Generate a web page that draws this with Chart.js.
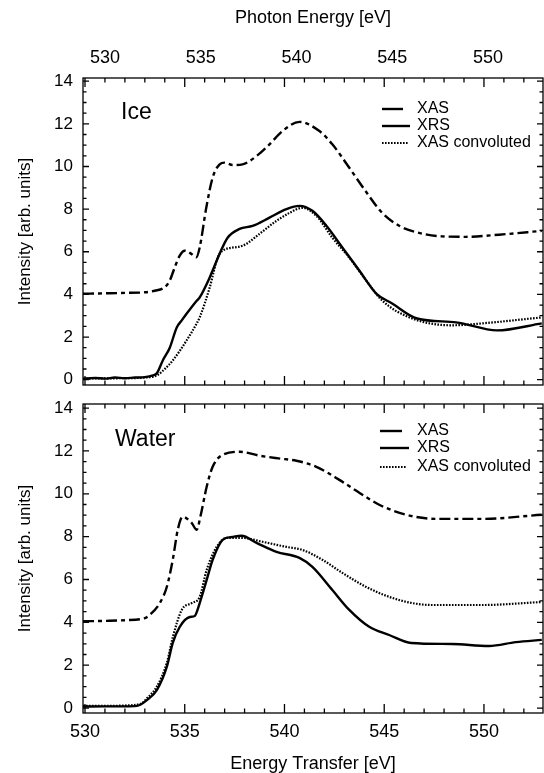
<!DOCTYPE html>
<html>
<head>
<meta charset="utf-8">
<script src="https://cdn.jsdelivr.net/npm/chart.js@4.4.1/dist/chart.umd.min.js"></script>
<style>
  html, body { margin: 0; padding: 0; background: #fff; }
  #wrap { position: relative; width: 544px; height: 773px; }
  .panel { position: absolute; left: 0; width: 544px; }
  #topPanel { top: 0; height: 395px; }
  #bottomPanel { top: 395px; height: 378px; }
</style>
</head>
<body>
<div id="wrap">
  <div class="panel" id="topPanel"><canvas id="iceChart"></canvas></div>
  <div class="panel" id="bottomPanel"><canvas id="waterChart"></canvas></div>
</div>
<script>
// tick labels
const xTicks = [530, 535, 540, 545, 550];
const photonTicks = [530, 535, 540, 545, 550];
const yTicks = [0, 2, 4, 6, 8, 10, 12, 14];
const seriesNames = ['XAS', 'XRS', 'XAS convoluted'];

// Ice: energy transfer [eV] / intensity
const iceXasE = [529.9, 531, 532, 533, 533.5, 534.0, 534.25, 534.5, 534.75, 535.0, 535.33, 535.58, 535.75, 536.08, 536.4, 536.75, 537.0, 537.4, 537.9, 538.6, 539.25, 539.9, 540.75, 541.75, 542.4, 543.25, 544.1, 544.9, 545.75, 546.6, 547.9, 549.1, 550.75, 552.9];
const iceXasI = [4.03, 4.05, 4.07, 4.1, 4.17, 4.34, 4.65, 5.27, 5.82, 6.05, 5.9, 5.74, 6.2, 8.07, 9.48, 10.1, 10.18, 10.07, 10.1, 10.49, 11.04, 11.66, 12.09, 11.66, 11.04, 9.94, 8.8, 7.82, 7.22, 6.92, 6.72, 6.7, 6.8, 6.98];

const iceXrsE = [529.9, 530.5, 531, 531.5, 532, 532.5, 533, 533.4, 533.6, 533.9, 534.25, 534.6, 534.85, 535.1, 535.6, 535.75, 536.25, 536.75, 537.15, 537.75, 538.4, 539.25, 540.1, 540.75, 541.4, 542.1, 542.9, 543.75, 544.6, 545.4, 546.65, 548.6, 550.65, 552.9];
const iceXrsI = [0.05, 0.08, 0.05, 0.1, 0.07, 0.1, 0.12, 0.2, 0.3, 0.9, 1.5, 2.45, 2.78, 3.1, 3.7, 3.86, 4.79, 5.91, 6.66, 7.07, 7.21, 7.6, 8.0, 8.15, 7.92, 7.22, 6.2, 5.12, 4.04, 3.57, 2.87, 2.69, 2.31, 2.64];

const iceConvE = [529.9, 531, 532, 533, 533.6, 534.0, 534.4, 535.1, 535.6, 535.75, 536.25, 536.65, 536.9, 537.9, 538.75, 539.6, 540.25, 540.9, 541.6, 542.4, 543.25, 544.1, 544.9, 546.4, 548.4, 549.9, 552.9];
const iceConvI = [0.05, 0.06, 0.07, 0.1, 0.2, 0.5, 0.9, 1.85, 2.64, 2.92, 4.32, 5.72, 6.05, 6.28, 6.84, 7.45, 7.82, 8.06, 7.68, 6.66, 5.72, 4.65, 3.71, 2.87, 2.55, 2.64, 2.92];

// Water: energy transfer [eV] / intensity
const waterXasE = [529.9, 531, 532, 533, 533.25, 533.75, 534.1, 534.4, 534.65, 534.9, 535.1, 535.35, 535.6, 535.8, 536.1, 536.4, 536.9, 537.75, 538.75, 539.7, 540.6, 541.6, 542.75, 543.75, 544.75, 546.1, 547.6, 549.9, 552.9];
const waterXasI = [4.05, 4.07, 4.1, 4.2, 4.35, 4.9, 5.65, 6.92, 8.32, 8.93, 8.85, 8.64, 8.32, 9.0, 10.33, 11.26, 11.82, 11.96, 11.78, 11.65, 11.54, 11.26, 10.65, 10.05, 9.49, 9.02, 8.83, 8.83, 9.02];

const waterXrsE = [529.9, 531, 532, 532.6, 533.1, 533.6, 534.1, 534.4, 534.75, 535.25, 535.5, 535.75, 536.1, 536.4, 536.9, 537.4, 537.85, 538.6, 539.6, 540.75, 541.4, 542.4, 543.25, 544.25, 545.25, 546.35, 548.4, 550.25, 551.6, 552.9];
const waterXrsI = [0.07, 0.08, 0.08, 0.1, 0.37, 0.84, 1.92, 3.04, 3.79, 4.25, 4.3, 4.9, 5.98, 6.92, 7.85, 7.99, 8.04, 7.71, 7.29, 7.01, 6.59, 5.51, 4.58, 3.79, 3.41, 3.04, 2.99, 2.9, 3.08, 3.18];

const waterConvE = [529.9, 531, 532, 532.8, 533.1, 533.6, 534.1, 534.4, 534.85, 535.35, 535.75, 536.1, 536.6, 537.1, 537.9, 538.9, 540.1, 540.9, 541.9, 542.9, 544.1, 545.25, 546.4, 547.4, 549.9, 552.9];
const waterConvI = [0.1, 0.1, 0.12, 0.2, 0.45, 1.0, 2.1, 3.3, 4.58, 4.9, 5.19, 6.45, 7.52, 7.94, 7.94, 7.76, 7.52, 7.38, 6.92, 6.31, 5.65, 5.19, 4.9, 4.81, 4.81, 4.95];

const FONT = '"Liberation Sans", Arial, Helvetica, sans-serif';
Chart.defaults.font.family = FONT;
Chart.defaults.color = '#000';

const toPoints = (xs, ys) => xs.map((x, i) => ({x: x, y: ys[i]}));

const lineStyles = [
  {borderWidth: 2.4, borderDash: [11, 4, 4, 4]},
  {borderWidth: 2.4, borderDash: []},
  {borderWidth: 2.2, borderDash: [1.6, 1.4]}
];

// keep the plot area exactly where the axis sizes put it
const noPad = s => { s.paddingTop = 0; s.paddingBottom = 0; s.paddingLeft = 0; s.paddingRight = 0; };

// frame, inward ticks, panel label and legend
const decorations = {
  id: 'decorations',
  afterDraw(chart, args, opts) {
    const ctx = chart.ctx;
    const a = chart.chartArea;
    const x = chart.scales.x, y = chart.scales.y;
    ctx.save();
    ctx.strokeStyle = '#000';
    ctx.fillStyle = '#000';
    ctx.lineWidth = 1.3;
    ctx.setLineDash([]);
    ctx.strokeRect(a.left, a.top, a.right - a.left, a.bottom - a.top);
    ctx.beginPath();
    for (let e = 530; e <= 552; e++) {
      const px = x.getPixelForValue(e);
      const len = e % 5 === 0 ? 9 : 4.5;
      ctx.moveTo(px, a.bottom); ctx.lineTo(px, a.bottom - len);
      ctx.moveTo(px, a.top); ctx.lineTo(px, a.top + len);
    }
    for (let v = 0; v <= 14; v += 0.5) {
      const py = y.getPixelForValue(v);
      const len = v % 2 === 0 ? 6 : 3.5;
      ctx.moveTo(a.left, py); ctx.lineTo(a.left + len, py);
      ctx.moveTo(a.right, py); ctx.lineTo(a.right - len, py);
    }
    ctx.stroke();

    ctx.textBaseline = 'middle';
    ctx.textAlign = 'left';
    ctx.font = '23px ' + FONT;
    ctx.fillText(opts.label, a.left + opts.labelX, a.top + opts.labelY);

    ctx.font = '16px ' + FONT;
    chart.data.datasets.forEach((ds, i) => {
      const ly = a.top + opts.legendY[i];
      ctx.beginPath();
      ctx.lineWidth = ds.borderWidth;
      ctx.setLineDash(i === 2 ? ds.borderDash : []);
      ctx.moveTo(a.left + opts.legendX, ly);
      ctx.lineTo(a.left + opts.legendX + opts.legendLen[i], ly);
      ctx.stroke();
      ctx.setLineDash([]);
      ctx.fillText(ds.label, a.left + opts.textX, ly);
    });
    ctx.restore();
  }
};

function makeDatasets(sets) {
  return sets.map((s, i) => Object.assign({
    label: seriesNames[i],
    data: toPoints(s[0], s[1]),
    borderColor: '#000',
    backgroundColor: '#000',
    pointRadius: 0,
    showLine: true,
    cubicInterpolationMode: 'monotone',
    fill: false
  }, lineStyles[i]));
}

const yAxis = {
  type: 'linear',
  position: 'left',
  min: -0.25,
  max: 14.15,
  afterBuildTicks: s => { s.ticks = yTicks.map(v => ({value: v})); },
  afterFit: s => { s.width = 83; noPad(s); },
  grid: {display: false, drawTicks: false},
  border: {display: false},
  ticks: {font: {size: 17}, padding: 10, color: '#000'},
  title: {display: true, text: 'Intensity [arb. units]', font: {size: 17}, color: '#000', padding: {top: 15, bottom: 0}}
};

// top panel: ice
new Chart(document.getElementById('iceChart'), {
  type: 'scatter',
  data: {datasets: makeDatasets([[iceXasE, iceXasI], [iceXrsE, iceXrsI], [iceConvE, iceConvI]])},
  options: {
    responsive: true,
    maintainAspectRatio: false,
    animation: false,
    layout: {padding: {left: 0, right: 1, top: 0, bottom: 0}},
    plugins: {
      legend: {display: false},
      tooltip: {enabled: false},
      decorations: {label: 'Ice', labelX: 38, labelY: 35, legendX: 299, textX: 334, legendY: [31, 48, 65], legendLen: [21, 28, 26]}
    },
    scales: {
      x: {
        type: 'linear', position: 'bottom', min: 529.9, max: 552.96,
        afterFit: s => { s.height = 10; noPad(s); },
        grid: {display: false, drawTicks: false},
        border: {display: false},
        ticks: {display: false}
      },
      xTop: {
        type: 'linear', position: 'top', min: 528.85, max: 552.87,
        afterBuildTicks: s => { s.ticks = photonTicks.map(v => ({value: v})); },
        afterFit: s => { s.height = 78; noPad(s); },
        grid: {display: false, drawTicks: false},
        border: {display: false},
        ticks: {font: {size: 18}, padding: 9, color: '#000', autoSkip: false, maxRotation: 0},
        title: {display: true, text: 'Photon Energy [eV]', font: {size: 18}, color: '#000', padding: {top: 7, bottom: 0}}
      },
      y: Object.assign({}, yAxis)
    }
  },
  plugins: [decorations]
});

// bottom panel: water
new Chart(document.getElementById('waterChart'), {
  type: 'scatter',
  data: {datasets: makeDatasets([[waterXasE, waterXasI], [waterXrsE, waterXrsI], [waterConvE, waterConvI]])},
  options: {
    responsive: true,
    maintainAspectRatio: false,
    animation: false,
    layout: {padding: {left: 0, right: 1, top: 9, bottom: 0}},
    plugins: {
      legend: {display: false},
      tooltip: {enabled: false},
      decorations: {label: 'Water', labelX: 32, labelY: 36, legendX: 297, textX: 334, legendY: [27, 44, 63], legendLen: [22, 29, 27]}
    },
    scales: {
      x: {
        type: 'linear', position: 'bottom', min: 529.9, max: 552.96,
        afterBuildTicks: s => { s.ticks = xTicks.map(v => ({value: v})); },
        afterFit: s => { s.height = 60; noPad(s); },
        grid: {display: false, drawTicks: false},
        border: {display: false},
        ticks: {font: {size: 18}, padding: 8, color: '#000', autoSkip: false, maxRotation: 0},
        title: {display: true, text: 'Energy Transfer [eV]', font: {size: 18}, color: '#000', padding: {top: 0, bottom: -2}}
      },
      y: Object.assign({}, yAxis, {min: -0.23, max: 14.19})
    }
  },
  plugins: [decorations]
});
</script>
</body>
</html>
